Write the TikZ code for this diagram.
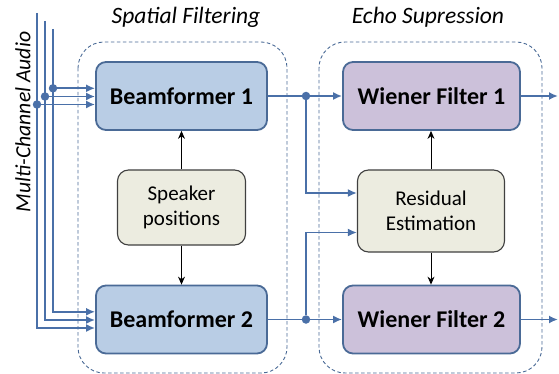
\documentclass[tikz,border=0pt]{standalone}
\usepackage{fontspec}
\setmainfont{Carlito}
\usetikzlibrary{arrows.meta,calc}

\definecolor{linkblue}{HTML}{4A70A8}
\definecolor{edgeblue}{HTML}{4A6A96}
\definecolor{bffill}{HTML}{B9CDE5}
\definecolor{wffill}{HTML}{CCC1DA}
\definecolor{auxfill}{HTML}{ECECE0}
\definecolor{auxedge}{HTML}{404040}

\tikzset{
  block/.style={draw=edgeblue, line width=1.8pt, rounded corners=10pt,
    inner sep=0pt, font=\fontsize{24}{28}\selectfont\bfseries},
  bfbox/.style={block, fill=bffill, minimum width=171pt, minimum height=68pt},
  wfbox/.style={block, fill=wffill, minimum width=177pt, minimum height=68pt},
  auxbox/.style={draw=auxedge, line width=1.1pt, fill=auxfill, rounded corners=11pt,
    inner sep=0pt, align=center, font=\fontsize{21}{25}\selectfont},
  group/.style={draw=edgeblue, line width=0.9pt, dash pattern=on 3.5pt off 2.5pt,
    rounded corners=26pt},
  title/.style={font=\fontsize{23.5}{27}\selectfont\itshape},
  sig/.style={draw=linkblue, line width=1.9pt},
  sigarrow/.style={sig, -{Latex[length=9pt,width=8pt]}},
  ctrl/.style={draw=black, line width=1pt, -{Stealth[length=8pt,width=7pt]}},
  dot/.style={circle, fill=linkblue, inner sep=0pt, minimum size=8.5pt},
}

\begin{document}
\begin{tikzpicture}[x=1pt,y=-1pt]
  \useasboundingbox (0,0) rectangle (559,374);

  % processing groups
  \draw[group] (78,42) rectangle (287,373);
  \draw[group] (319,42) rectangle (542,373);
  \node[title] (tsf) at (186,17) {Spatial Filtering};
  \node[title] (tes) at (428,17) {Echo Supression};

  % blocks
  \node[bfbox] (bf1) at (181.5,96) {Beamformer 1};
  \node[bfbox] (bf2) at (181.5,319.5) {Beamformer 2};
  \node[wfbox] (wf1) at (431.5,96) {Wiener Filter 1};
  \node[wfbox] (wf2) at (431.5,319.5) {Wiener Filter 2};
  \node[auxbox, minimum width=128pt, minimum height=75pt] (spk) at (181.5,207.5) {Speaker\\positions};
  \node[auxbox, minimum width=147pt, minimum height=82pt] (res) at (431,211) {Residual\\Estimation};

  % input label
  \node[rotate=90, font=\fontsize{21.7}{26}\selectfont\itshape] (mca) at (23,122) {Multi-Channel Audio};

  % microphone channels
  \coordinate (top1) at (37,13);
  \coordinate (top2) at (45,21);
  \coordinate (top3) at (53,29);
  \node[dot] (d1) at (37,104.5) {};
  \node[dot] (d2) at (45,96.5) {};
  \node[dot] (d3) at (53,88.3) {};
  \coordinate (in1a) at ($(bf1.west)+(0,8.5)$);
  \coordinate (in2a) at ($(bf1.west)+(0,0.5)$);
  \coordinate (in3a) at ($(bf1.west)+(0,-7.7)$);
  \coordinate (in1b) at ($(bf2.west)+(0,8.5)$);
  \coordinate (in2b) at ($(bf2.west)+(0,0.5)$);
  \coordinate (in3b) at ($(bf2.west)+(0,-7.7)$);
  \draw[sigarrow] (top1) |- (in1b);
  \draw[sigarrow] (top2) |- (in2b);
  \draw[sigarrow] (top3) |- (in3b);
  \draw[sigarrow] (d1) -- (in1a);
  \draw[sigarrow] (d2) -- (in2a);
  \draw[sigarrow] (d3) -- (in3a);

  % beamformer outputs
  \node[dot] (j1) at (306,96) {};
  \node[dot] (j2) at (306,319.5) {};
  \draw[sig] (bf1.east) -- (j1);
  \draw[sig] (bf2.east) -- (j2);
  \draw[sigarrow] (j1) -- (wf1.west);
  \draw[sigarrow] (j2) -- (wf2.west);
  \draw[sigarrow] (j1) |- ($(res.west)+(0,-18)$);
  \draw[sigarrow] (j2) |- ($(res.west)+(0,21.5)$);

  % control links
  \draw[ctrl] (spk.north) -- (bf1.south);
  \draw[ctrl] (spk.south) -- (bf2.south |- bf2.north);
  \draw[ctrl] (res.north) -- (res.north |- wf1.south);
  \draw[ctrl] (res.south) -- (res.south |- wf2.north);

  % filter outputs
  \coordinate (o1) at (558,96);
  \coordinate (o2) at (558,319.5);
  \draw[sigarrow] (wf1.east) -- (o1);
  \draw[sigarrow] (wf2.east) -- (o2);
\end{tikzpicture}
\end{document}
